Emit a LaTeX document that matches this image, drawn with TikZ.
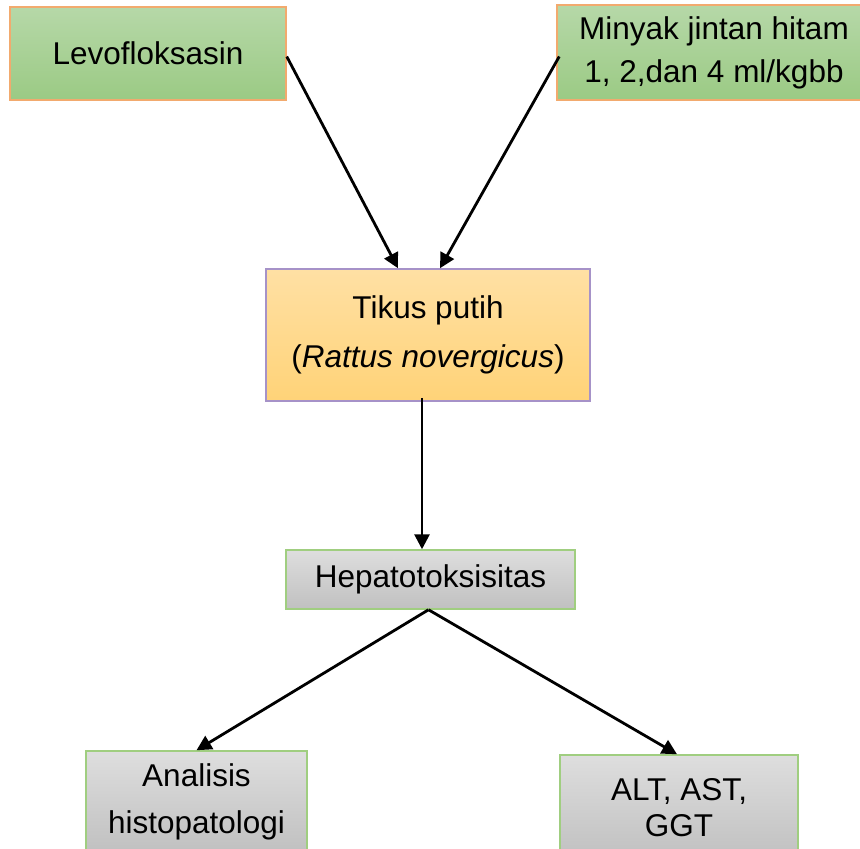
\documentclass[tikz,border=0pt]{standalone}
\usepackage{fontspec}
\setmainfont{Liberation Sans}
\usetikzlibrary{arrows.meta,calc}

\definecolor{grtop}{RGB}{182,216,168}
\definecolor{grbot}{RGB}{155,202,132}
\definecolor{orline}{RGB}{242,170,110}
\definecolor{ortop}{RGB}{255,224,164}
\definecolor{orbot}{RGB}{255,211,120}
\definecolor{puline}{RGB}{166,146,200}
\definecolor{gytop}{RGB}{222,222,222}
\definecolor{gybot}{RGB}{192,192,192}
\definecolor{gyline}{RGB}{160,206,128}

\begin{document}
\begin{tikzpicture}[x=1pt,y=-1pt,
        box/.style={draw, line width=1.5pt, align=center, inner sep=0pt,
                    font=\fontsize{31.5}{36}\selectfont},
        greenbox/.style={box, draw=orline, top color=grtop, bottom color=grbot},
        orangebox/.style={box, draw=puline, top color=ortop, bottom color=orbot},
        graybox/.style={box, draw=gyline, top color=gytop, bottom color=gybot},
        arr/.style={-{Triangle[length=15pt,width=15pt]}, line width=2.8pt}]
        \clip (0,0) rectangle (860,849);

        % Inputs
        \node[greenbox, minimum width=276, minimum height=93]   (lev)    at (148,53.5) {Levofloksasin};
        \node[greenbox, minimum width=314, minimum height=95]   (minyak) at (714,52.5) {Minyak jintan hitam\\[7pt] 1, 2,dan 4 ml/kgbb};

        % Subject
        \node[orangebox, minimum width=324, minimum height=132] (tikus)  at (428,335)  {Tikus putih\\[13pt] (\textit{Rattus novergicus})};

        % Effect
        \node[graybox, minimum width=289, minimum height=59]    (hepato) at (430.5,579.5) {Hepatotoksisitas};

        % Parameters
        \node[graybox, minimum width=221, minimum height=102]   (histo)  at (196.5,802) {Analisis\\[11pt] histopatologi};
        \node[graybox, minimum width=238, minimum height=105]   (alt)    at (679,807.5) {ALT, AST,\\ GGT};

        % Arrows
        \draw[arr] ($(lev.east)+(0,3)$)     -- ($(tikus.north)+(-30,0)$);
        \draw[arr] ($(minyak.west)+(3,4)$)  -- ($(tikus.north)+(12,0)$);
        \draw[arr] ($(tikus.south)+(-6,-4)$) -- ($(hepato.north)+(-8.5,0)$);
        \draw[arr] ($(hepato.south)+(-2,0)$) -- (histo.north);
        \draw[arr] ($(hepato.south)+(-2,0)$) -- ($(alt.north)+(-2,0)$);
\end{tikzpicture}
\end{document}
